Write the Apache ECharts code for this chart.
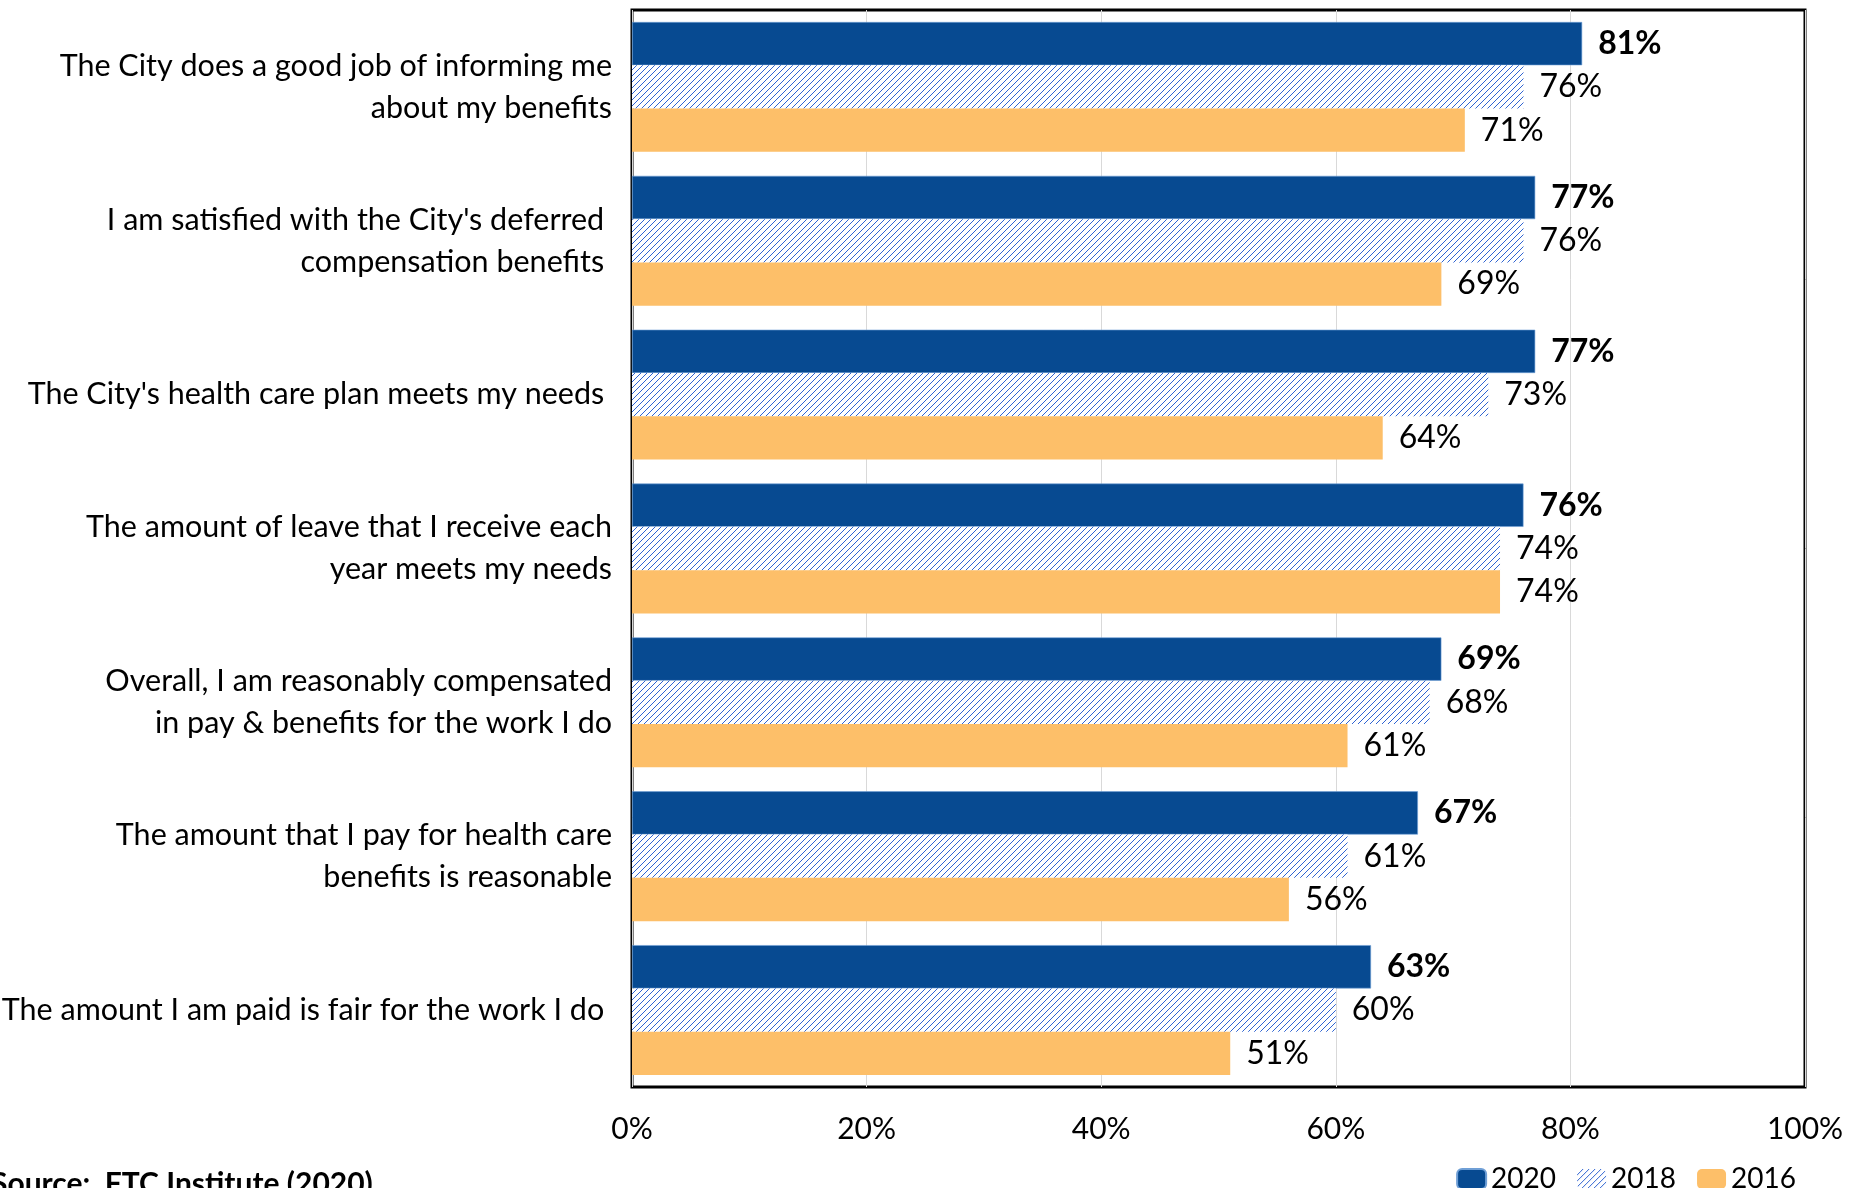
<!DOCTYPE html>
<html>
<head>
<meta charset="utf-8">
<script src="https://cdn.jsdelivr.net/npm/echarts@6/dist/echarts.min.js"></script>
<style>
  html, body { margin: 0; padding: 0; background: #fff; }
  #chart { width: 1865px; height: 1188px; }
</style>
</head>
<body>
<div id="chart"></div>
<script>
// Survey statements, top to bottom
const categories = [
  "The City does a good job of informing me\nabout my benefits",
  "I am satisfied with the City's deferred \ncompensation benefits ",
  "The City's health care plan meets my needs ",
  "The amount of leave that I receive each\nyear meets my needs",
  "Overall, I am reasonably compensated\nin pay & benefits for the work I do",
  "The amount that I pay for health care\nbenefits is reasonable",
  "The amount I am paid is fair for the work I do "
];

// Percent agreeing, by survey year
const values2020 = [81, 77, 77, 76, 69, 67, 63];
const values2018 = [76, 76, 73, 74, 68, 61, 60];
const values2016 = [71, 69, 64, 74, 61, 56, 51];

const xTicks = [0, 20, 40, 60, 80, 100];
const sourceNote = "Source:  FTC Institute (2020)";

const FONT = "Lato, 'Open Sans', sans-serif";

// Crisp one-pixel diagonal hatch fill for the 2018 bars
function makeHatch(size, color) {
  const c = document.createElement('canvas');
  c.width = size; c.height = size;
  const ctx = c.getContext('2d');
  ctx.fillStyle = '#ffffff';
  ctx.fillRect(0, 0, size, size);
  ctx.fillStyle = color;
  for (let i = 0; i < size; i++) {
    ctx.fillRect(i, size - 1 - i, 1, 1);
  }
  return c;
}
const hatch = { image: makeHatch(6, '#2f64d2'), repeat: 'repeat' };

const chart = echarts.init(document.getElementById('chart'), null, { renderer: 'canvas' });

const labelBase = {
  show: true,
  position: 'right',
  distance: 16,
  fontFamily: FONT,
  fontSize: 32,
  color: '#000',
  formatter: p => p.value + '%'
};

chart.setOption({
  animation: false,
  backgroundColor: '#ffffff',
  textStyle: { fontFamily: FONT },
  grid: {
    left: 632, right: 60, top: 10, bottom: 101,
    outerBoundsMode: 'none',
    containLabel: false,
    show: true,
    borderColor: '#000',
    borderWidth: 3,
    backgroundColor: 'transparent'
  },
  legend: {
    right: 64,
    top: 1160,
    itemWidth: 29,
    itemHeight: 20,
    itemGap: 21,
    textStyle: { fontFamily: FONT, fontSize: 28, color: '#000' },
    data: ['2020', '2018', '2016']
  },
  xAxis: {
    type: 'value',
    min: xTicks[0],
    max: xTicks[xTicks.length - 1],
    interval: xTicks[1] - xTicks[0],
    axisLine: { show: false },
    axisTick: { show: false },
    splitLine: { show: true, lineStyle: { color: '#d9d9d9', width: 1 } },
    axisLabel: {
      margin: 27,
      fontFamily: FONT,
      fontSize: 30,
      color: '#000',
      formatter: '{value}%'
    }
  },
  yAxis: {
    type: 'category',
    inverse: true,
    data: categories,
    axisLine: { show: false },
    axisTick: { show: false },
    axisLabel: {
      margin: 20,
      fontFamily: FONT,
      fontSize: 30.5,
      lineHeight: 42,
      color: '#000',
      align: 'right'
    }
  },
  series: [
    {
      name: '2020', type: 'bar', data: values2020,
      barGap: '0%', barCategoryGap: '15.6%',
      itemStyle: { color: '#074a91', borderColor: '#6f9fd6', borderWidth: 0.6 },
      label: Object.assign({}, labelBase, { fontWeight: 'bold' })
    },
    {
      name: '2018', type: 'bar', data: values2018,
      barGap: '0%', barCategoryGap: '15.6%',
      itemStyle: { color: hatch },
      label: labelBase
    },
    {
      name: '2016', type: 'bar', data: values2016,
      barGap: '0%', barCategoryGap: '15.6%',
      itemStyle: { color: '#fdbf69' },
      label: labelBase
    }
  ],
  graphic: [
    {
      type: 'text',
      left: -9,
      top: 1169,
      style: {
        text: sourceNote,
        fontFamily: FONT,
        fontSize: 30,
        fontWeight: 'bold',
        fill: '#000'
      }
    }
  ]
});
</script>
</body>
</html>
